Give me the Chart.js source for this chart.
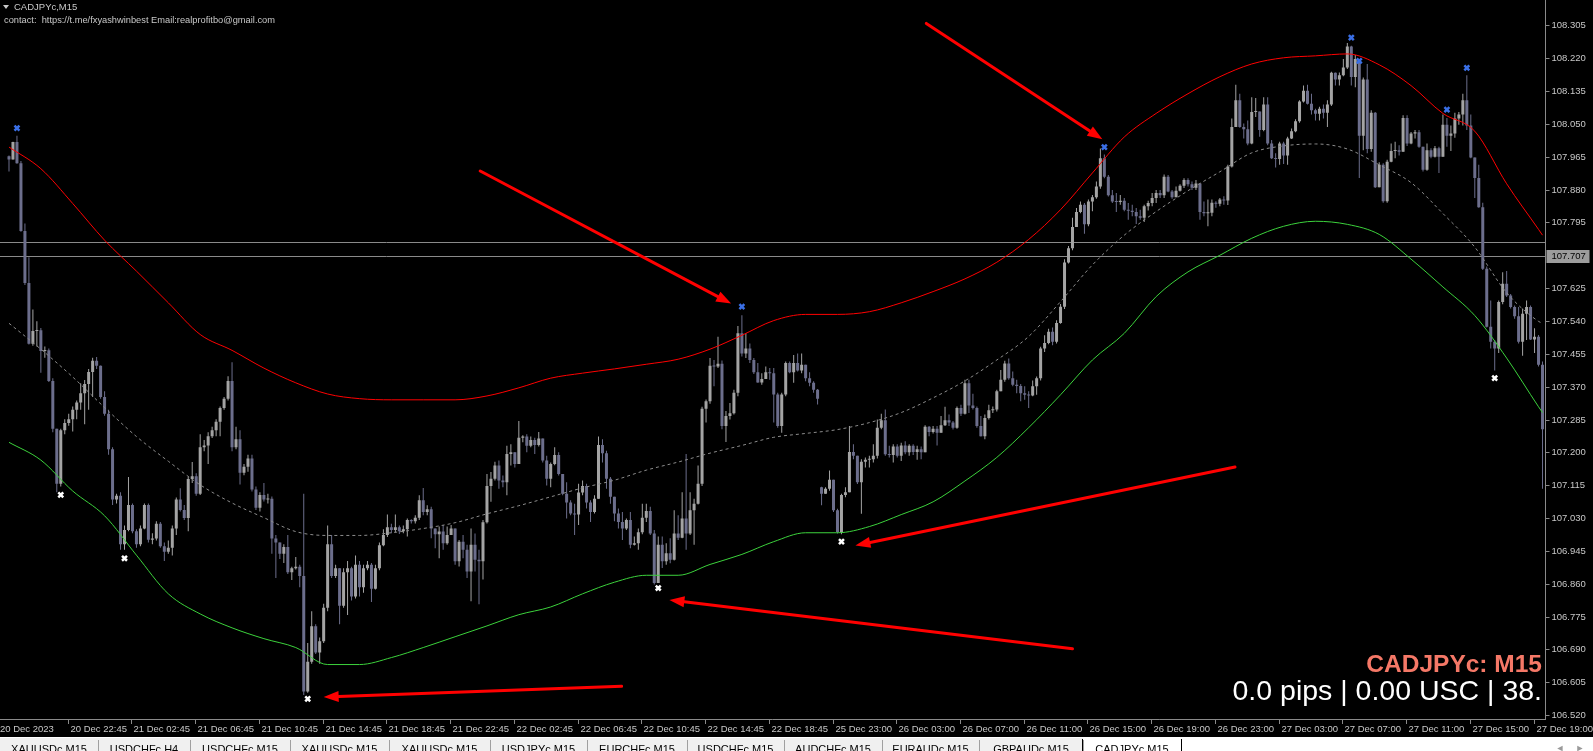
<!DOCTYPE html>
<html>
<head>
<meta charset="utf-8">
<script src="https://cdn.jsdelivr.net/npm/chart.js@4.4.1/dist/chart.umd.min.js"></script>
<style>
  html, body { margin: 0; padding: 0; background: #000; overflow: hidden; }
  canvas { display: block; }
</style>
</head>
<body>
<canvas id="chart" width="1593" height="751"></canvas>
<script>
// CADJPYc M15 - one candle per 15 minutes, opens follow the previous close
const firstOpen = 107.966;
const gapBar = 204, gapOpen = 107.110; // Monday open after the weekend

const closes = [
  107.958,108.003,107.948,107.773,107.638,107.481,107.514,107.516,107.462,107.464,
  107.385,107.261,107.119,107.257,107.276,107.286,107.310,107.329,107.353,107.377,
  107.408,107.437,107.424,107.343,107.300,107.208,107.078,107.088,106.962,106.999,
  107.064,106.996,106.962,107.003,107.064,106.974,106.977,107.015,106.957,106.943,
  106.953,107.003,107.078,107.051,107.030,107.131,107.138,107.093,107.213,107.218,
  107.242,107.257,107.279,107.315,107.339,107.385,107.213,107.234,107.147,107.163,
  107.184,107.104,107.057,107.090,107.078,107.080,106.977,106.967,106.938,106.955,
  106.890,106.900,106.904,106.880,106.581,106.658,106.750,106.682,106.711,106.798,
  106.962,106.880,106.900,106.803,106.890,106.900,106.827,106.909,106.851,106.900,
  106.909,106.847,106.900,106.960,106.986,107.006,106.999,107.006,106.996,107.001,
  107.025,107.022,107.031,107.076,107.046,107.053,107.003,106.988,106.995,106.965,
  106.986,107.003,106.918,106.969,106.948,106.892,106.961,106.922,106.918,107.019,
  107.113,107.132,107.166,107.127,107.123,107.196,107.200,107.170,107.238,107.241,
  107.217,107.232,107.219,107.236,107.179,107.132,107.170,107.193,107.144,107.093,
  107.070,107.042,107.039,107.096,107.113,107.070,107.046,107.080,107.219,107.198,
  107.132,107.085,107.042,107.020,107.003,107.025,106.961,106.965,106.993,107.031,
  107.048,106.990,106.862,106.961,106.918,106.939,106.922,106.990,106.979,107.029,
  106.990,107.050,107.067,107.119,107.313,107.332,107.424,107.422,107.429,107.268,
  107.294,107.301,107.354,107.508,107.456,107.469,107.439,107.407,107.381,107.390,
  107.407,107.405,107.350,107.268,107.350,107.431,107.407,107.431,107.412,107.427,
  107.392,107.380,107.362,107.339,107.093,107.106,107.129,107.050,106.994,107.090,
  107.097,107.201,107.191,107.123,107.176,107.181,107.182,107.191,107.264,107.283,
  107.195,107.193,107.215,107.191,107.218,107.200,107.217,107.201,107.208,107.200,
  107.266,107.253,107.261,107.251,107.270,107.283,107.277,107.264,107.315,107.300,
  107.379,107.321,107.315,107.268,107.242,107.289,107.309,107.311,107.358,107.388,
  107.430,107.392,107.375,107.372,107.353,107.349,107.347,107.371,107.392,107.469,
  107.483,107.512,107.486,107.535,107.577,107.691,107.728,107.783,107.822,107.841,
  107.790,107.849,107.860,107.888,107.961,107.913,107.865,107.849,107.848,107.851,
  107.828,107.825,107.822,107.811,107.807,107.837,107.845,107.858,107.871,107.865,
  107.913,107.875,107.860,107.877,107.890,107.905,107.894,107.885,107.896,107.822,
  107.819,107.820,107.846,107.843,107.854,107.852,107.940,108.042,108.111,108.042,
  108.036,107.999,108.081,108.082,108.034,108.100,107.999,107.961,107.959,107.999,
  107.968,108.012,108.031,108.057,108.108,108.136,108.102,108.085,108.076,108.089,
  108.079,108.100,108.182,108.165,108.176,108.196,108.250,108.171,108.218,108.019,
  108.165,107.985,108.079,107.886,107.944,107.850,107.952,107.980,107.982,107.978,
  108.065,107.999,108.025,108.028,107.991,107.931,107.982,107.965,107.987,107.965,
  108.048,108.019,108.025,108.064,108.074,108.111,108.046,107.963,107.910,107.834,
  107.675,107.525,107.486,107.469,107.589,107.636,107.606,107.576,107.552,107.486,
  107.559,107.576,107.492,107.499,107.427,107.260
];
const highs = [
  107.968,108.004,108.019,107.954,107.792,107.705,107.570,107.539,107.522,107.474,
  107.469,107.392,107.257,107.261,107.286,107.300,107.319,107.334,107.379,107.387,
  107.416,107.445,107.447,107.425,107.358,107.310,107.213,107.093,107.097,107.011,
  107.136,107.068,107.001,107.011,107.068,107.068,106.991,107.022,107.020,106.967,
  106.972,107.011,107.083,107.107,107.064,107.136,107.175,107.146,107.247,107.232,
  107.252,107.266,107.286,107.319,107.343,107.397,107.433,107.266,107.257,107.170,
  107.194,107.194,107.112,107.097,107.121,107.093,107.086,106.986,106.967,106.962,
  106.986,106.904,106.929,106.909,107.093,106.707,106.789,106.755,106.721,106.808,
  107.011,106.986,106.909,106.900,106.900,106.919,106.904,106.933,106.919,106.909,
  106.919,106.914,106.909,106.967,107.001,107.039,107.015,107.039,107.011,107.011,
  107.029,107.027,107.037,107.089,107.108,107.063,107.059,106.999,107.008,107.012,
  107.008,107.012,106.999,106.973,106.986,106.961,107.003,106.990,106.948,107.025,
  107.144,107.149,107.176,107.179,107.140,107.217,107.221,107.191,107.281,107.244,
  107.247,107.241,107.238,107.253,107.234,107.191,107.174,107.213,107.200,107.144,
  107.123,107.076,107.067,107.119,107.127,107.119,107.076,107.089,107.241,107.234,
  107.204,107.136,107.085,107.055,107.046,107.029,107.046,106.982,107.003,107.067,
  107.067,107.059,106.999,106.982,106.982,106.965,106.978,107.050,107.037,107.097,
  107.196,107.097,107.080,107.166,107.318,107.337,107.444,107.439,107.499,107.438,
  107.307,107.328,107.362,107.527,107.555,107.508,107.482,107.444,107.431,107.405,
  107.422,107.418,107.418,107.354,107.354,107.435,107.435,107.452,107.456,107.456,
  107.427,107.407,107.384,107.364,107.111,107.110,107.153,107.123,107.054,107.093,
  107.110,107.268,107.221,107.187,107.182,107.187,107.191,107.221,107.285,107.300,
  107.311,107.217,107.221,107.221,107.225,107.229,107.221,107.221,107.217,107.215,
  107.270,107.268,107.268,107.268,107.294,107.318,107.298,107.281,107.319,107.323,
  107.388,107.388,107.352,107.319,107.294,107.298,107.323,107.319,107.362,107.413,
  107.437,107.443,107.409,107.388,107.377,107.371,107.358,107.386,107.396,107.473,
  107.503,107.520,107.523,107.542,107.584,107.700,107.734,107.807,107.832,107.849,
  107.845,107.854,107.866,107.901,107.986,107.971,107.918,107.879,107.871,107.866,
  107.858,107.845,107.841,107.832,107.828,107.841,107.851,107.871,107.879,107.879,
  107.919,107.918,107.879,107.888,107.894,107.909,107.909,107.901,107.905,107.894,
  107.849,107.854,107.854,107.850,107.858,107.863,107.944,108.064,108.151,108.128,
  108.051,108.059,108.119,108.117,108.081,108.119,108.119,108.008,107.974,108.004,
  108.004,108.017,108.038,108.062,108.111,108.149,108.151,108.128,108.089,108.094,
  108.100,108.111,108.185,108.183,108.183,108.218,108.259,108.252,108.228,108.192,
  108.170,108.205,108.085,108.081,107.951,107.948,107.957,107.999,108.004,107.995,
  108.072,108.072,108.029,108.034,108.034,107.991,107.999,107.987,107.993,107.991,
  108.074,108.065,108.046,108.079,108.081,108.128,108.176,108.074,107.963,107.944,
  107.846,107.681,107.593,107.491,107.593,107.666,107.669,107.610,107.580,107.576,
  107.572,107.593,107.580,107.521,107.504,107.435
];
const lows = [
  107.927,107.958,107.947,107.771,107.633,107.479,107.476,107.474,107.406,107.445,
  107.382,107.252,107.097,107.112,107.247,107.269,107.254,107.286,107.310,107.273,
  107.310,107.343,107.416,107.339,107.295,107.194,107.064,107.068,106.948,106.948,
  106.996,106.991,106.953,106.957,107.001,106.967,106.962,106.972,106.953,106.919,
  106.938,106.933,106.986,107.047,107.025,106.996,107.121,107.088,107.090,107.203,
  107.170,107.237,107.242,107.242,107.310,107.334,107.203,107.208,107.117,107.141,
  107.150,107.099,107.051,107.047,107.073,107.068,106.938,106.875,106.924,106.914,
  106.885,106.870,106.897,106.851,106.572,106.578,106.653,106.678,106.653,106.707,
  106.789,106.875,106.875,106.755,106.798,106.779,106.817,106.822,106.827,106.837,
  106.895,106.813,106.845,106.895,106.957,106.981,106.991,106.993,106.989,106.991,
  106.982,107.016,107.016,107.025,107.037,107.037,106.978,106.952,106.926,106.948,
  106.961,106.986,106.909,106.905,106.926,106.875,106.815,106.892,106.807,106.871,
  107.016,107.072,107.127,107.106,107.110,107.089,107.166,107.161,107.179,107.226,
  107.200,107.213,107.196,107.215,107.174,107.114,107.110,107.167,107.140,107.089,
  107.029,107.037,106.986,107.012,107.089,107.055,107.020,107.042,107.080,107.174,
  107.106,107.067,107.022,107.003,106.973,106.999,106.952,106.959,106.948,106.988,
  107.020,106.986,106.858,106.875,106.901,106.909,106.913,106.920,106.973,106.978,
  106.948,106.986,106.961,107.065,107.113,107.277,107.326,107.371,107.418,107.260,
  107.227,107.285,107.298,107.345,107.448,107.444,107.431,107.403,107.380,107.375,
  107.392,107.388,107.277,107.264,107.251,107.345,107.405,107.380,107.409,107.405,
  107.384,107.371,107.354,107.324,107.063,107.095,107.101,107.046,106.990,106.988,
  107.084,107.174,107.182,107.118,107.041,107.161,107.161,107.174,107.184,107.260,
  107.191,107.187,107.174,107.187,107.178,107.195,107.191,107.193,107.181,107.182,
  107.204,107.242,107.249,107.218,107.259,107.268,107.268,107.259,107.261,107.294,
  107.298,107.302,107.311,107.264,107.241,107.234,107.285,107.302,107.306,107.358,
  107.383,107.388,107.371,107.353,107.332,107.336,107.315,107.345,107.349,107.386,
  107.460,107.480,107.477,107.482,107.533,107.571,107.689,107.723,107.785,107.819,
  107.766,107.785,107.824,107.856,107.882,107.909,107.862,107.845,107.822,107.841,
  107.824,107.802,107.811,107.791,107.802,107.796,107.826,107.837,107.845,107.858,
  107.858,107.873,107.856,107.862,107.875,107.884,107.888,107.879,107.879,107.802,
  107.811,107.785,107.811,107.833,107.837,107.841,107.840,107.937,108.042,108.040,
  108.012,107.995,107.997,108.068,108.017,108.031,107.995,107.959,107.937,107.944,
  107.946,107.944,108.011,108.028,108.053,108.105,108.100,108.074,108.059,108.059,
  108.064,108.042,108.096,108.149,108.149,108.173,108.192,108.149,108.145,107.910,
  107.982,107.974,107.978,107.884,107.908,107.846,107.846,107.951,107.961,107.968,
  107.988,107.993,107.997,108.012,107.988,107.927,107.929,107.961,107.963,107.923,
  107.970,107.991,107.980,108.014,108.048,108.046,108.034,107.961,107.858,107.833,
  107.672,107.523,107.469,107.412,107.457,107.583,107.602,107.572,107.546,107.482,
  107.450,107.491,107.491,107.457,107.422,107.106
];

// indicator envelope, read every 8 bars (last point = last bar)
const bandBars = [0,8,16,24,32,40,48,56,64,72,80,88,96,104,112,120,128,136,144,152,
  160,168,176,184,192,200,208,216,224,232,240,248,256,264,272,280,288,296,304,312,
  320,328,336,344,352,360,368,376,384,385];
const upperBand = [
  107.990,107.934,107.844,107.749,107.669,107.587,107.505,107.464,107.418,107.380,
  107.351,107.339,107.336,107.336,107.336,107.346,107.367,107.392,107.405,107.416,
  107.428,107.441,107.467,107.503,107.541,107.557,107.557,107.564,107.587,107.616,
  107.649,107.692,107.751,107.828,107.923,108.016,108.077,108.128,108.172,108.205,
  108.221,108.226,108.231,108.203,108.149,108.077,108.031,107.895,107.777,107.762];
const lowerBand = [
  107.226,107.180,107.100,107.036,106.934,106.834,106.782,106.746,106.718,106.695,
  106.651,106.651,106.669,106.695,106.723,106.751,106.780,106.800,106.834,106.864,
  106.882,106.882,106.910,106.936,106.969,106.992,106.992,107.008,107.039,107.072,
  107.126,107.187,107.264,107.349,107.439,107.508,107.603,107.667,107.710,107.754,
  107.785,107.798,107.790,107.764,107.700,107.628,107.554,107.444,107.318,107.303];
const midBand = [
  107.534,107.467,107.395,107.316,107.241,107.177,107.116,107.069,107.031,106.995,
  106.985,106.985,106.992,107.003,107.018,107.041,107.062,107.085,107.108,107.128,
  107.154,107.175,107.198,107.218,107.239,107.249,107.259,107.277,107.303,107.341,
  107.385,107.439,107.500,107.590,107.685,107.762,107.823,107.877,107.926,107.975,
  107.993,107.998,107.985,107.944,107.898,107.818,107.731,107.613,107.539,107.534];

// swing markers
const topBars = [2, 184, 275, 337, 339, 361, 366];
const topPrices = [108.039, 107.577, 107.990, 108.273, 108.213, 108.087, 108.195];
const bottomBars = [13, 29, 75, 163, 209, 373];
const bottomPrices = [107.090, 106.926, 106.562, 106.849, 106.969, 107.392];

// hand drawn arrows: [fromBar, fromPrice, toBar, toPrice]
const arrowLines = [
  [230.3, 108.310, 274.5, 108.010],
  [118.3, 107.928, 181.3, 107.585],
  [307.8, 107.162, 212.5, 106.959],
  [267.0, 106.692, 165.8, 106.818],
  [153.8, 106.595, 79.0, 106.567]
];

const levelLines = [107.745, 107.707];
const bidPrice = 107.707;

const priceTicks = [108.305,108.220,108.135,108.050,107.965,107.880,107.795,107.625,
  107.540,107.455,107.370,107.285,107.200,107.115,107.030,106.945,106.860,106.775,
  106.690,106.605,106.520];
const timeTicks = ['20 Dec 22:45','21 Dec 02:45','21 Dec 06:45','21 Dec 10:45','21 Dec 14:45',
  '21 Dec 18:45','21 Dec 22:45','22 Dec 02:45','22 Dec 06:45','22 Dec 10:45','22 Dec 14:45',
  '22 Dec 18:45','25 Dec 23:00','26 Dec 03:00','26 Dec 07:00','26 Dec 11:00','26 Dec 15:00',
  '26 Dec 19:00','26 Dec 23:00','27 Dec 03:00','27 Dec 07:00','27 Dec 11:00','27 Dec 15:00',
  '27 Dec 19:00'];
const tabs = ['XAUUSDc,M15','USDCHFc,H4','USDCHFc,M15','XAUUSDc,M15','XAUUSDc,M15','USDJPYc,M15',
  'EURCHFc,M15','USDCHFc,M15','AUDCHFc,M15','EURAUDc,M15','GBPAUDc,M15','CADJPYc,M15'];
const tabEdges = [0, 98, 190, 290, 389, 490, 587, 687, 784, 882, 979, 1083, 1181];

const BULL = '#a4a4a4', BEAR = '#6c6e8c';
const FONT = '"Liberation Sans", Arial, sans-serif';

const opens = closes.map((c, i) => i === 0 ? firstOpen : (i === gapBar ? gapOpen : closes[i - 1]));
const candleColors = closes.map((c, i) => c >= opens[i] ? BULL : BEAR);

const mt4Frame = {
  id: 'mt4Frame',
  beforeDraw(chart) {
    const g = chart.ctx;
    g.save();
    g.fillStyle = '#000';
    g.fillRect(0, 0, chart.width, chart.height);
    g.restore();
  },
  beforeDatasetsDraw(chart) {
    const g = chart.ctx, ys = chart.scales.y, area = chart.chartArea;
    g.save();
    g.strokeStyle = '#8a8a8a';
    g.lineWidth = 1;
    levelLines.forEach(v => {
      const py = Math.round(ys.getPixelForValue(v)) + 0.5;
      g.beginPath(); g.moveTo(0, py); g.lineTo(area.right + 2, py); g.stroke();
    });
    g.restore();
  },
  afterDraw(chart) {
    const g = chart.ctx, xs = chart.scales.x, ys = chart.scales.y, area = chart.chartArea;
    g.save();

    // arrows
    g.strokeStyle = '#ff0000'; g.fillStyle = '#ff0000'; g.lineWidth = 3; g.lineCap = 'round';
    arrowLines.forEach(([b0, p0, b1, p1]) => {
      const x0 = xs.getPixelForValue(b0), y0 = ys.getPixelForValue(p0);
      const x1 = xs.getPixelForValue(b1), y1 = ys.getPixelForValue(p1);
      const ang = Math.atan2(y1 - y0, x1 - x0), len = 15, half = 5.5;
      const bx = x1 - len * Math.cos(ang), by = y1 - len * Math.sin(ang);
      g.beginPath(); g.moveTo(x0, y0); g.lineTo(bx, by); g.stroke();
      g.beginPath();
      g.moveTo(x1, y1);
      g.lineTo(bx + half * Math.sin(ang), by - half * Math.cos(ang));
      g.lineTo(bx - half * Math.sin(ang), by + half * Math.cos(ang));
      g.closePath(); g.fill();
    });

    // right price axis
    const axisX = area.right + 1.5;
    g.strokeStyle = '#8a8a8a'; g.lineWidth = 1; g.lineCap = 'butt';
    g.beginPath(); g.moveTo(axisX, 0); g.lineTo(axisX, area.bottom + 1); g.stroke();
    g.beginPath(); g.moveTo(0, area.bottom + 0.5); g.lineTo(axisX, area.bottom + 0.5); g.stroke();
    g.font = '9.5px ' + FONT;
    g.fillStyle = '#c8c8c8';
    g.textBaseline = 'middle';
    g.textAlign = 'left';
    priceTicks.forEach(v => {
      const py = Math.round(ys.getPixelForValue(v)) + 0.5;
      g.beginPath(); g.moveTo(axisX, py); g.lineTo(axisX + 4, py); g.stroke();
      g.fillText(v.toFixed(3), axisX + 6, py);
    });
    const bidY = Math.round(ys.getPixelForValue(bidPrice)) + 0.5;
    g.fillStyle = '#9c9c9c';
    g.fillRect(axisX + 1, bidY - 6.5, 43, 13);
    g.fillStyle = '#000';
    g.fillText(bidPrice.toFixed(3), axisX + 6, bidY);

    // time axis
    g.fillStyle = '#c8c8c8';
    g.fillText('20 Dec 2023', 0, area.bottom + 10);
    timeTicks.forEach((t, k) => {
      const px = Math.round(xs.getPixelForValue(15 + 16 * k)) - 0.5;
      g.beginPath(); g.moveTo(px, area.bottom); g.lineTo(px, area.bottom + 5); g.stroke();
      g.fillText(t, px + 2, area.bottom + 10);
    });

    // header text
    g.fillStyle = '#c8c8c8';
    g.beginPath(); g.moveTo(3, 5); g.lineTo(9, 5); g.lineTo(6, 9); g.closePath(); g.fill();
    g.font = '9.5px ' + FONT;
    g.fillText('CADJPYc,M15', 14, 7.5);
    g.fillText('contact:  https://t.me/fxyashwinbest Email:realprofitbo@gmail.com', 4, 20.5, 271);

    // bottom-right info
    g.textAlign = 'right';
    g.textBaseline = 'alphabetic';
    g.font = 'bold 24.5px ' + FONT;
    g.fillStyle = '#f57867';
    g.fillText('CADJPYc: M15', 1542, 672);
    g.font = '28.5px ' + FONT;
    g.fillStyle = '#ffffff';
    g.fillText('0.0 pips | 0.00 USC | 38.', 1542, 700);

    // tab strip
    g.fillStyle = '#f0f0f0';
    g.fillRect(0, 738, chart.width, 13);
    g.fillStyle = '#ffffff';
    g.fillRect(0, 737, chart.width, 1);
    g.fillRect(1083, 738, chart.width - 1083, 13);
    g.strokeStyle = '#a0a0a0';
    g.font = '11px ' + FONT;
    g.textAlign = 'center';
    g.textBaseline = 'alphabetic';
    tabs.forEach((t, k) => {
      const l = tabEdges[k], r = tabEdges[k + 1];
      if (k > 0) { g.beginPath(); g.moveTo(l + 0.5, 740); g.lineTo(l + 0.5, 751); g.stroke(); }
      g.fillStyle = '#000';
      g.fillText(t, (l + r) / 2, 753);
    });
    g.strokeStyle = '#000';
    g.beginPath(); g.moveTo(1082.5, 739); g.lineTo(1082.5, 751); g.moveTo(1181.5, 739); g.lineTo(1181.5, 751); g.stroke();
    g.fillStyle = '#9a9a9a';
    g.font = '9px ' + FONT;
    g.fillText('\u25C4', 1560, 751);
    g.fillText('\u25BA', 1580, 751);
    g.restore();
  }
};

new Chart(document.getElementById('chart'), {
  type: 'bar',
  data: {
    datasets: [
      {
        type: 'line', label: 'top', order: 0,
        data: topBars.map((b, k) => ({ x: b, y: topPrices[k] })),
        showLine: false, pointStyle: 'crossRot', pointRadius: 3.5,
        borderColor: '#3a6fe6', borderWidth: 2.5
      },
      {
        type: 'line', label: 'bottom', order: 0,
        data: bottomBars.map((b, k) => ({ x: b, y: bottomPrices[k] })),
        showLine: false, pointStyle: 'crossRot', pointRadius: 3.5,
        borderColor: '#ffffff', borderWidth: 2.5
      },
      {
        type: 'line', label: 'upper', order: 1,
        data: bandBars.map((b, k) => ({ x: b, y: upperBand[k] })),
        borderColor: '#ff0000', borderWidth: 1, pointRadius: 0, cubicInterpolationMode: 'monotone'
      },
      {
        type: 'line', label: 'lower', order: 1,
        data: bandBars.map((b, k) => ({ x: b, y: lowerBand[k] })),
        borderColor: '#3cd23c', borderWidth: 1, pointRadius: 0, cubicInterpolationMode: 'monotone'
      },
      {
        type: 'line', label: 'mid', order: 1,
        data: bandBars.map((b, k) => ({ x: b, y: midBand[k] })),
        borderColor: '#8c8c8c', borderWidth: 1, borderDash: [3, 3], pointRadius: 0,
        cubicInterpolationMode: 'monotone'
      },
      {
        label: 'body', order: 2, grouped: false,
        data: closes.map((c, i) => ({ x: i, y: [opens[i], c] })),
        backgroundColor: candleColors, barThickness: 3, minBarLength: 1, inflateAmount: 0
      },
      {
        label: 'wick', order: 3, grouped: false,
        data: closes.map((c, i) => ({
          x: i,
          y: [Math.min(lows[i], opens[i], c), Math.max(highs[i], opens[i], c)]
        })),
        backgroundColor: candleColors, barThickness: 1, minBarLength: 1, inflateAmount: 0
      }
    ]
  },
  options: {
    responsive: false,
    animation: false,
    events: [],
    layout: { padding: { left: 0, top: 0, right: 49, bottom: 32 } },
    scales: {
      x: { type: 'linear', min: -0.625, max: 385.375, offset: false, display: false },
      y: { type: 'linear', min: 106.5101, max: 108.3537, display: false }
    },
    plugins: { legend: { display: false }, tooltip: { enabled: false } }
  },
  plugins: [mt4Frame]
});
</script>
</body>
</html>
